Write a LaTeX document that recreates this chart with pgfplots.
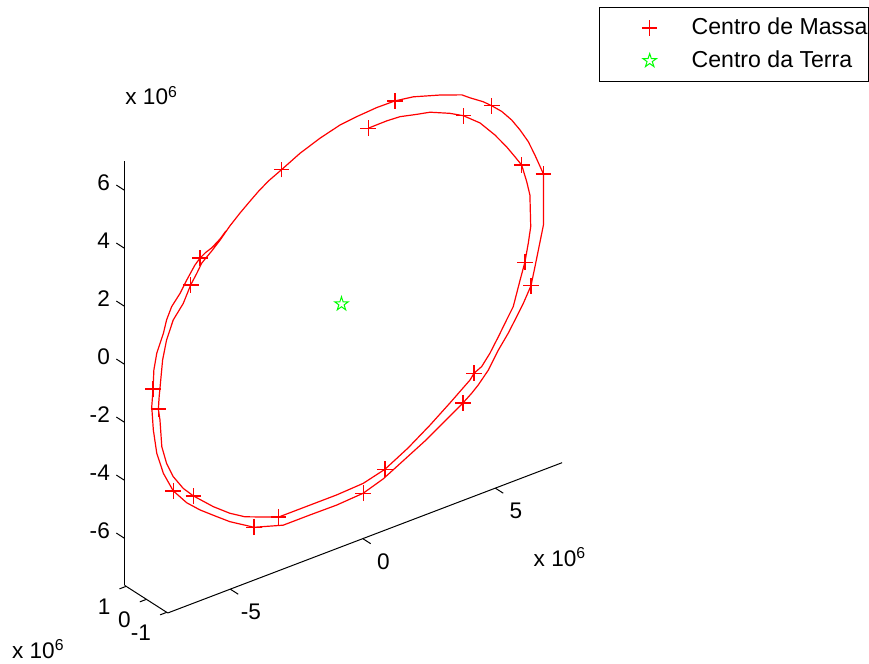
\documentclass[border=0pt]{standalone}
\usepackage{fontspec}
\setmainfont{Liberation Sans}
\usepackage{pgfplots}
\pgfplotsset{compat=1.18}
\newcommand\ff{\fontsize{11.3}{13.5}\selectfont}
\newcommand\lf{\fontsize{11.55}{13.8}\selectfont}
\definecolor{mred}{rgb}{1,0,0}
\definecolor{mgreen}{rgb}{0,1,0}
\pgfdeclareplotmark{pentagram}{%
  \pgfsetstrokecolor{mgreen}%
  \pgfpathmoveto{\pgfpointpolar{90}{\pgfplotmarksize}}%
  \pgfpathlineto{\pgfpointpolar{126}{0.382\pgfplotmarksize}}%
  \pgfpathlineto{\pgfpointpolar{162}{\pgfplotmarksize}}%
  \pgfpathlineto{\pgfpointpolar{198}{0.382\pgfplotmarksize}}%
  \pgfpathlineto{\pgfpointpolar{234}{\pgfplotmarksize}}%
  \pgfpathlineto{\pgfpointpolar{270}{0.382\pgfplotmarksize}}%
  \pgfpathlineto{\pgfpointpolar{306}{\pgfplotmarksize}}%
  \pgfpathlineto{\pgfpointpolar{342}{0.382\pgfplotmarksize}}%
  \pgfpathlineto{\pgfpointpolar{18}{\pgfplotmarksize}}%
  \pgfpathlineto{\pgfpointpolar{54}{0.382\pgfplotmarksize}}%
  \pgfpathclose
  \pgfusepathqstroke
}
\pgfdeclareplotmark{redplus}{%
  \pgfsetstrokecolor{mred}%
  \pgfpathmoveto{\pgfqpoint{-\pgfplotmarksize}{0pt}}%
  \pgfpathlineto{\pgfqpoint{\pgfplotmarksize}{0pt}}%
  \pgfpathmoveto{\pgfqpoint{0pt}{-\pgfplotmarksize}}%
  \pgfpathlineto{\pgfqpoint{0pt}{\pgfplotmarksize}}%
  \pgfusepathqstroke
}
\pgfplotsset{
  myframe/.style={
    at={(0pt,0pt)}, anchor=origin,
    x={(13.25pt,5.05pt)}, z={(0pt,14.5pt)},
    xmin=-7.36, xmax=7.52, zmin=-7.62, zmax=7.01,
    axis lines*=left,
    major tick length=0pt,
    every tick/.style={draw=none},
    axis line style={black, line width=0.5pt},
    tick label style={font=\ff, inner sep=0pt},
    /pgf/number format/assume math mode=true,
    scaled ticks=false,
    clip=false,
  }
}
\begin{document}
\begin{tikzpicture}
\path[use as bounding box] (-170.75pt,-180pt) rectangle (263.75pt,152pt);
% z axis (placed at x=xmin, y=ymax)
\begin{axis}[myframe,
  y={(10.15pt,-6.5pt)}, ymin=-1.08, ymax=1.05,
  hide x axis, hide y axis,
  ztick={-6,-4,-2,0,2,4,6},
  zticklabel style={anchor=east, xshift=-7.15pt, yshift=3.65pt},
]
\addplot3[draw=none, forget plot] coordinates {(0,0,0)};
\end{axis}
% x and y axes, data
\begin{axis}[myframe,
  y={(-10.15pt,6.5pt)}, ymin=-1.05, ymax=1.08,
  hide z axis,
  xtick={-5,0,5}, ytick={-1,0,1},
  xticklabel style={anchor=center, xshift=10.35pt, yshift=-11.5pt},
  yticklabel style={anchor=east, xshift=-7.65pt, yshift=-10.25pt},
  legend style={at={(axis description cs:1.0843,1.0062)}, anchor=north west,
    draw=black, line width=0.5pt, inner xsep=0.6pt, inner ysep=2.3pt,
    row sep=0.35pt, column sep=11.0pt, font=\lf,
    cells={anchor=west}, nodes={inner sep=0pt}},
  legend image code/.code={\path[draw=none,fill=none] (-24.5pt,-8pt) rectangle (10pt,8pt);
    \draw[#1] plot coordinates {(0pt,0pt)};},
]
% tick marks
\draw[black, line width=0.5pt] (axis cs:-5,-1.05,-7.62) -- (axis cs:-5,-1.44,-7.62);
\draw[black, line width=0.5pt] (axis cs:0,-1.05,-7.62) -- (axis cs:0,-1.44,-7.62);
\draw[black, line width=0.5pt] (axis cs:5,-1.05,-7.62) -- (axis cs:5,-1.44,-7.62);
\draw[black, line width=0.5pt] (axis cs:-7.36,-1,-7.62) -- (axis cs:-7.61,-1,-7.62);
\draw[black, line width=0.5pt] (axis cs:-7.36,0,-7.62) -- (axis cs:-7.61,0,-7.62);
\draw[black, line width=0.5pt] (axis cs:-7.36,1,-7.62) -- (axis cs:-7.61,1,-7.62);
\draw[black, line width=0.5pt] (axis cs:-7.36,1.08,-6) -- (axis cs:-7.36,1.48,-6);
\draw[black, line width=0.5pt] (axis cs:-7.36,1.08,-4) -- (axis cs:-7.36,1.48,-4);
\draw[black, line width=0.5pt] (axis cs:-7.36,1.08,-2) -- (axis cs:-7.36,1.48,-2);
\draw[black, line width=0.5pt] (axis cs:-7.36,1.08,0) -- (axis cs:-7.36,1.48,0);
\draw[black, line width=0.5pt] (axis cs:-7.36,1.08,2) -- (axis cs:-7.36,1.48,2);
\draw[black, line width=0.5pt] (axis cs:-7.36,1.08,4) -- (axis cs:-7.36,1.48,4);
\draw[black, line width=0.5pt] (axis cs:-7.36,1.08,6) -- (axis cs:-7.36,1.48,6);
\addplot3[mred, line width=0.6pt, mark=none, forget plot] coordinates {
(1.01,0,5.71) (1.71,0,5.72) (2.21,0,5.69) (2.84,0,5.55) (3.34,0,5.45)
(4.09,0,5.15) (4.60,0,4.89) (5.23,0,4.42) (5.79,0,3.81) (6.23,0,3.25)
(6.55,0,2.79) (6.80,0,2.42) (6.99,0,1.78) (7.11,0,1.28) (7.14,0,0.18)
(7.05,0,-0.35) (6.92,0,-0.97) (6.74,0,-1.52) (6.48,0,-2.35) (6.23,0,-2.72)
(5.92,0,-3.19) (5.60,0,-3.65) (5.29,0,-4.00) (5.00,0,-4.13) (4.85,0,-4.31)
(4.09,0,-4.84) (3.34,0,-5.34) (2.51,0,-5.84) (1.64,0,-6.27) (0.82,0,-6.47)
(-0.18,0,-6.52) (-1.19,0,-6.52) (-2.38,0,-6.52) (-3.64,0,-6.07) (-4.21,0,-5.75)
(-4.84,0,-5.30) (-5.59,0,-4.67) (-5.97,0,-4.28) (-6.35,0,-3.74) (-6.60,0,-3.20)
(-6.78,0,-2.56) (-6.85,0,-1.61) (-6.91,0,-1.22) (-6.88,0,-0.80) (-6.82,0,-0.24)
(-6.75,0,0.42) (-6.60,0,1.06) (-6.35,0,1.66) (-5.97,0,2.10) (-5.69,0,2.64)
(-5.46,0,2.96) (-5.28,0,3.24) (-5.09,0,3.39) (-4.90,0,3.53) (-4.58,0,3.80)
(-4.21,0,4.16) (-3.83,0,4.47) (-3.45,0,4.75) (-3.14,0,4.97) (-2.76,0,5.20)
(-2.26,0,5.42)
(-1.57,0,5.74) (-0.81,0,6.00) (-0.06,0,6.19) (0.57,0,6.26) (1.33,0,6.31)
(2.02,0,6.30) (2.71,0,6.20) (3.72,0,5.91) (4.54,0,5.63) (4.85,0,5.42)
(5.35,0,5.11) (5.67,0,4.86) (6.05,0,4.53) (6.42,0,4.11) (6.74,0,3.65)
(7.05,0,3.14) (7.30,0,2.59) (7.62,0,1.83) (7.62,0,1.45) (7.62,0,0.07)
(7.43,0,-0.72) (7.30,0,-1.26) (7.15,0,-1.86) (6.86,0,-2.37) (6.61,0,-2.74)
(6.29,0,-3.20) (5.92,0,-3.65) (5.54,0,-4.21) (5.16,0,-4.59) (4.91,0,-4.79)
(4.58,0,-5.01) (3.91,0,-5.39) (3.15,0,-5.82) (2.32,0,-6.22) (1.57,0,-6.58)
(0.82,0,-6.81) (-0.18,0,-6.87) (-1.19,0,-6.86) (-2.20,0,-6.86) (-3.30,0,-6.55)
(-4.21,0,-6.04) (-4.71,0,-5.69) (-5.34,0,-5.24) (-5.84,0,-4.82) (-6.35,0,-4.23)
(-6.72,0,-3.50) (-6.97,0,-2.72) (-7.10,0,-1.87) (-7.16,0,-1.05) (-7.11,0,-0.46)
(-7.08,0,0.19) (-6.97,0,0.73) (-6.72,0,1.33) (-6.60,0,1.75) (-6.41,0,2.14)
(-6.09,0,2.49) (-5.84,0,2.86) (-5.53,0,3.27) (-5.34,0,3.44) (-5.13,0,3.56)
(-4.90,0,3.64) (-4.58,0,3.84) (-4.36,0,4.04)
};
\addplot3[only marks, mark=redplus, mark size=3.9pt, color=mred, mark options={draw=mred, line width=0.7pt}] coordinates {
(1.01,0,5.71) (4.60,0,4.89) (6.80,0,2.42) (6.92,0,-0.97) (5.00,0,-4.13)
(1.64,0,-6.27) (-2.38,0,-6.52) (-5.59,0,-4.67) (-6.91,0,-1.22) (-5.69,0,2.64)
(-2.26,0,5.42) (2.02,0,6.30) (5.67,0,4.86) (7.62,0,1.83) (7.15,0,-1.86)
(4.58,0,-5.01) (0.82,0,-6.81) (-3.30,0,-6.55) (-6.35,0,-4.23) (-7.11,0,-0.46)
(-5.34,0,3.44)
};
\addlegendentry{Centro de Massa}
\addplot3[only marks, mark=pentagram, mark size=3.6pt, color=mgreen, mark options={draw=mgreen, line width=0.5pt}] coordinates {(0,0,0)};
\addlegendentry{Centro da Terra}
\end{axis}
\node[anchor=base west, inner sep=0pt, font=\ff] at (-108.25pt,99.5pt) {x 10\textsuperscript{6}};
\node[anchor=base west, inner sep=0pt, font=\ff] at (95.9pt,-131.35pt) {x 10\textsuperscript{6}};
\node[anchor=base west, inner sep=0pt, font=\ff] at (-164.9pt,-177.15pt) {x 10\textsuperscript{6}};
\end{tikzpicture}
\end{document}
